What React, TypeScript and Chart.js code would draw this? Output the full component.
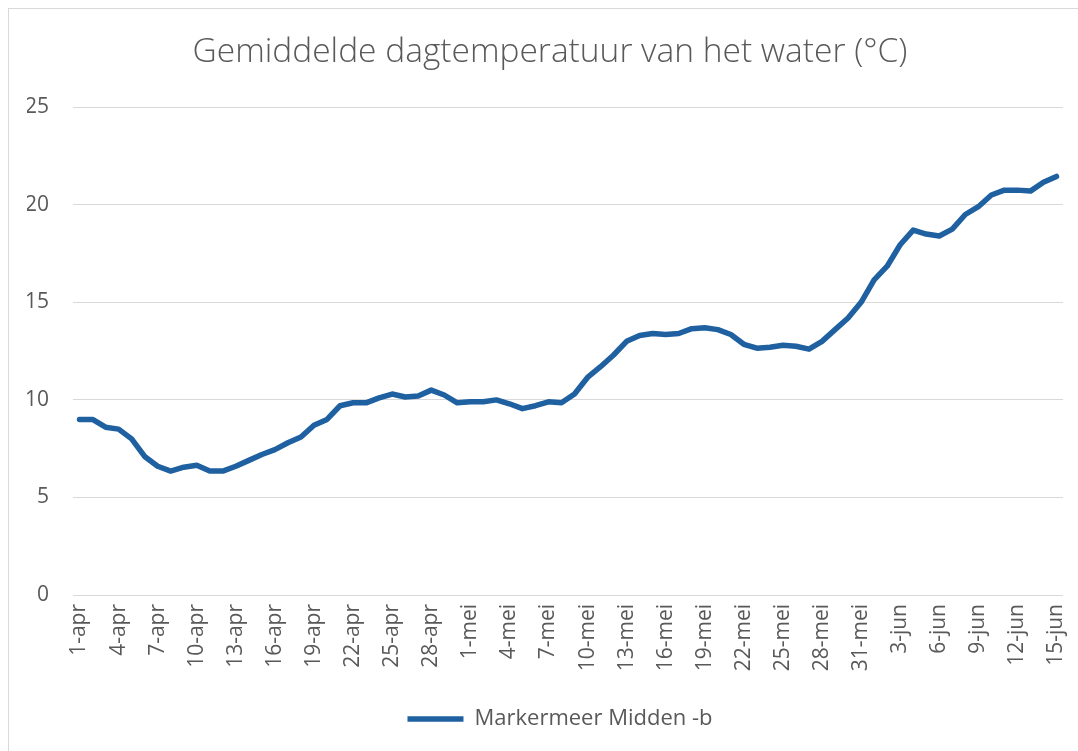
import React, { useEffect, useRef } from "react";
import { Chart, registerables } from "chart.js";

Chart.register(...registerables);

const TITLE = "Gemiddelde dagtemperatuur van het water (°C)";
const SERIES_NAME = "Markermeer Midden -b";

const aprilDays: string[] = [
  "1-apr", "2-apr", "3-apr", "4-apr", "5-apr", "6-apr", "7-apr", "8-apr", "9-apr", "10-apr",
  "11-apr", "12-apr", "13-apr", "14-apr", "15-apr", "16-apr", "17-apr", "18-apr", "19-apr", "20-apr",
  "21-apr", "22-apr", "23-apr", "24-apr", "25-apr", "26-apr", "27-apr", "28-apr", "29-apr", "30-apr",
];
const mayDays: string[] = [
  "1-mei", "2-mei", "3-mei", "4-mei", "5-mei", "6-mei", "7-mei", "8-mei", "9-mei", "10-mei",
  "11-mei", "12-mei", "13-mei", "14-mei", "15-mei", "16-mei", "17-mei", "18-mei", "19-mei", "20-mei",
  "21-mei", "22-mei", "23-mei", "24-mei", "25-mei", "26-mei", "27-mei", "28-mei", "29-mei", "30-mei",
  "31-mei",
];
const juneDays: string[] = [
  "1-jun", "2-jun", "3-jun", "4-jun", "5-jun", "6-jun", "7-jun", "8-jun", "9-jun", "10-jun",
  "11-jun", "12-jun", "13-jun", "14-jun", "15-jun",
];

const aprilTemps: number[] = [
  9.0, 9.0, 8.6, 8.5, 8.0, 7.1, 6.6, 6.35, 6.55, 6.65,
  6.35, 6.35, 6.6, 6.9, 7.2, 7.45, 7.8, 8.1, 8.7, 9.0,
  9.7, 9.85, 9.85, 10.1, 10.3, 10.15, 10.2, 10.5, 10.25, 9.85,
];
const mayTemps: number[] = [
  9.9, 9.9, 10.0, 9.8, 9.55, 9.7, 9.9, 9.85, 10.3, 11.15,
  11.7, 12.3, 13.0, 13.3, 13.4, 13.35, 13.4, 13.65, 13.7, 13.6,
  13.35, 12.85, 12.65, 12.7, 12.8, 12.75, 12.6, 13.0, 13.6, 14.2,
  15.0,
];
const juneTemps: number[] = [
  16.15, 16.85, 17.95, 18.7, 18.5, 18.4, 18.75, 19.5, 19.9, 20.5,
  20.75, 20.75, 20.7, 21.15, 21.45,
];

const categories = [...aprilDays, ...mayDays, ...juneDays];
const temps = [...aprilTemps, ...mayTemps, ...juneTemps];

const Y_MIN = 0;
const Y_MAX = 25;
const Y_STEP = 5;
const LABEL_EVERY = 3;

const TEXT = "#595959";
const GRID = "#d9d9d9";
const LINE = "#1f60a0";
const FONT = "'Open Sans', 'Liberation Sans', sans-serif";

// shifts title and legend horizontally to match the reference placement
const shiftPlugin = {
  id: "shiftBlocks",
  afterLayout(chart: any) {
    const t = chart.titleBlock;
    if (t) {
      t.left += 5;
      t.right += 5;
    }
    const l = chart.legend;
    if (l) {
      l.left += 15;
      l.right += 15;
    }
  },
};

export default function App() {
  const ref = useRef<HTMLCanvasElement | null>(null);

  useEffect(() => {
    if (!ref.current) return;
    const chart = new Chart(ref.current, {
      type: "line",
      data: {
        labels: categories,
        datasets: [
          {
            label: SERIES_NAME,
            data: temps,
            borderColor: LINE,
            backgroundColor: LINE,
            borderWidth: 5.5,
            pointRadius: 0,
            pointHoverRadius: 0,
            tension: 0,
            borderCapStyle: "round",
            borderJoinStyle: "round",
            pointStyle: "line",
          },
        ],
      },
      plugins: [shiftPlugin],
      options: {
        responsive: false,
        animation: false,
        layout: { padding: { left: 18, right: 15, top: 0, bottom: 11 } },
        plugins: {
          tooltip: { enabled: false },
          title: {
            display: true,
            text: TITLE,
            color: TEXT,
            font: { family: FONT, size: 33.5, weight: "300" },
            padding: { top: 23, bottom: 35 },
          },
          legend: {
            display: true,
            position: "bottom",
            labels: {
              color: TEXT,
              font: { family: FONT, size: 22 },
              usePointStyle: true,
              pointStyleWidth: 56,
              boxHeight: 22,
              padding: 10,
            },
          },
        },
        scales: {
          x: {
            type: "category",
            offset: true,
            grid: { display: false, drawTicks: false },
            border: { display: false },
            afterFit: (scale: any) => {
              scale.height = 103;
              scale.paddingLeft = 0;
              scale.paddingRight = 0;
            },
            ticks: {
              autoSkip: false,
              maxRotation: 90,
              minRotation: 90,
              padding: 9,
              color: TEXT,
              font: { family: FONT, size: 21 },
              callback: (_v: any, i: number) => (i % LABEL_EVERY === 0 ? categories[i] : ""),
            },
          },
          y: {
            min: Y_MIN,
            max: Y_MAX,
            afterFit: (scale: any) => {
              scale.width = 46;
            },
            grid: { color: GRID, lineWidth: 1, drawTicks: false },
            border: { display: false },
            ticks: {
              stepSize: Y_STEP,
              padding: 24,
              color: TEXT,
              font: { family: FONT, size: 21 },
            },
          },
        },
      },
    });
    return () => chart.destroy();
  }, []);

  return (
    <div
      style={{
        position: "fixed",
        left: 8,
        top: 8,
        width: 1070,
        height: 743,
        boxSizing: "border-box",
        borderTop: "1px solid #d9d9d9",
        borderLeft: "1px solid #d9d9d9",
        background: "#fff",
      }}
    >
      <canvas ref={ref} width={1069} height={742} style={{ display: "block" }} />
    </div>
  );
}
